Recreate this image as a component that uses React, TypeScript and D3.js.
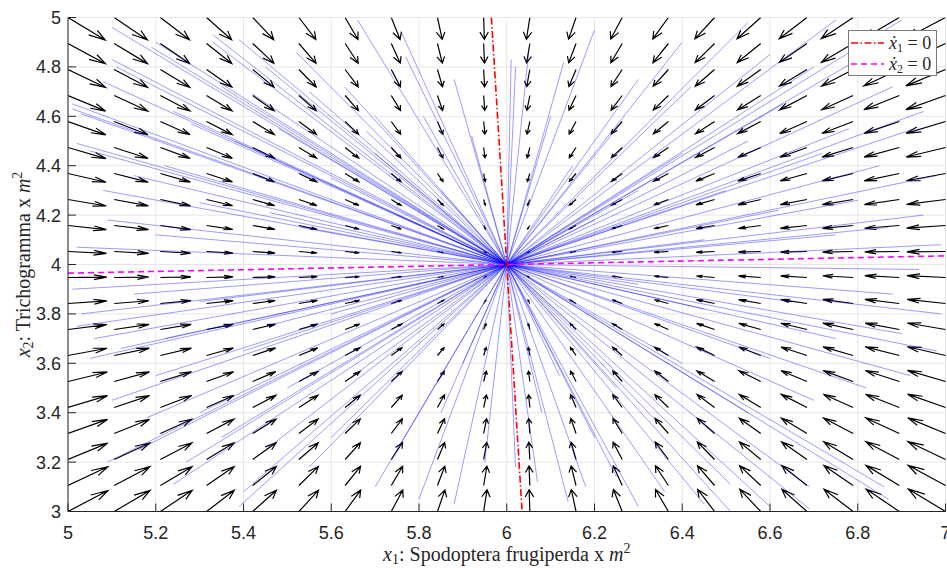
import React from "react";
import * as d3 from "d3";

// ---------- data ----------
const xDomain = [5, 7];
const yDomain = [3, 5];
const xTicks = [5, 5.2, 5.4, 5.6, 5.8, 6, 6.2, 6.4, 6.6, 6.8, 7];
const yTicks = [3, 3.2, 3.4, 3.6, 3.8, 4, 4.2, 4.4, 4.6, 4.8, 5];

// equilibrium point
const equilibrium = [6, 4];
// x1-dot = 0 nullcline: x1 at x2 = 5 and x2 = 3
const nullcline1X = [5.965, 6.035];
const nullcline1Y = [5, 3];
// x2-dot = 0 nullcline: x2 at x1 = 5 and x1 = 7
const nullcline2X = [5, 7];
const nullcline2Y = [3.965, 4.035];

// quiver grid (20 x 20 points over the domain)
const quiverCount = 20;
const quiverScale = 0.088;

// trajectory starting points (all converge to the equilibrium)
const trajStartX = [
  5.10, 5.10, 5.11, 5.08, 5.01, 5.01, 5.03, 5.02, 5.05, 5.08, 5.20, 5.19, 5.33, 5.33, 5.39, 5.42, 5.66, 5.76, 5.77, 5.63,
  5.70, 5.68, 5.81, 5.24, 5.28, 5.35, 5.45, 5.52, 5.55, 5.48, 5.38, 5.22, 5.15, 5.09, 5.30, 5.46, 5.60, 5.70, 5.85, 5.88,
  5.92, 5.75, 5.20, 5.53, 5.02,
  6.01, 6.02, 6.05, 6.13, 6.20, 6.30, 6.40, 6.42, 6.55, 6.60, 6.70, 6.63, 6.75, 6.82, 6.90, 6.88, 6.95, 6.93, 6.78, 6.72,
  6.85, 6.98, 6.55, 6.40, 6.25, 6.15, 6.10, 6.30, 6.50, 6.62, 6.80, 6.95, 6.87, 6.75, 6.45, 6.99, 6.20,
  5.01, 5.03, 5.02, 5.06, 5.12, 5.05, 5.20, 5.10, 5.18, 5.09, 5.16, 5.24, 5.27, 5.39, 5.40, 5.30, 5.35, 5.45, 5.55, 5.60,
  5.70, 5.80, 5.88, 5.75, 5.50, 5.65, 5.40, 5.30, 5.15, 5.60, 5.45, 5.85, 5.95, 5.90, 5.22,
  6.02, 6.07, 6.14, 6.18, 6.25, 6.30, 6.36, 6.45, 6.51, 6.51, 6.60, 6.69, 6.69, 6.87, 6.86, 6.20, 6.35, 6.55, 6.70, 6.82,
  6.92, 6.98, 6.90, 6.75, 6.60, 6.40, 6.25, 6.12, 6.15, 6.45, 6.65, 6.88, 6.99, 6.94, 6.30, 6.08,
];
const trajStartY = [
  4.96, 4.83, 4.80, 4.74, 4.65, 4.63, 4.61, 4.49, 4.46, 4.30, 4.90, 4.88, 4.93, 4.90, 4.91, 4.69, 4.99, 4.94, 4.84, 4.72,
  4.60, 4.54, 4.60, 4.62, 4.57, 4.72, 4.80, 4.86, 4.70, 4.55, 4.50, 4.40, 4.36, 4.18, 4.25, 4.21, 4.35, 4.45, 4.30, 4.75,
  4.52, 4.20, 4.12, 4.15, 4.07,
  4.83, 4.80, 4.86, 4.82, 4.95, 4.75, 4.90, 4.72, 4.98, 4.85, 4.80, 4.65, 4.99, 4.85, 4.99, 4.72, 4.62, 4.55, 4.55, 4.45,
  4.40, 4.36, 4.50, 4.45, 4.55, 4.40, 4.60, 4.30, 4.30, 4.22, 4.26, 4.20, 4.15, 4.12, 4.10, 4.08, 4.18,
  3.90, 3.80, 3.75, 3.70, 3.66, 3.62, 3.55, 3.45, 3.38, 3.20, 3.25, 3.11, 3.20, 3.02, 3.08, 3.40, 3.30, 3.25, 3.18, 3.30,
  3.10, 3.05, 3.03, 3.25, 3.50, 3.55, 3.65, 3.85, 3.88, 3.80, 3.75, 3.40, 3.20, 3.60, 3.70,
  3.18, 3.12, 3.04, 3.10, 3.14, 3.02, 3.08, 3.03, 3.00, 3.11, 3.02, 3.01, 3.10, 3.05, 3.10, 3.30, 3.35, 3.40, 3.45, 3.50,
  3.55, 3.65, 3.72, 3.70, 3.62, 3.60, 3.50, 3.55, 3.75, 3.82, 3.85, 3.88, 3.80, 3.98, 3.92, 3.40,
];

// ---------- layout ----------
const W = 947;
const H = 568;
const left = 68;
const right = 945.5;
const top = 17.5;
const bottom = 511.5;

const tickFont = "'Liberation Sans', Arial, sans-serif";
const serif = "'Liberation Serif', 'Times New Roman', serif";

export default function App() {
  const x = d3.scaleLinear().domain(xDomain).range([left, right]);
  const y = d3.scaleLinear().domain(yDomain).range([bottom, top]);

  // linear model derived from nullclines
  const k1 = (equilibrium[0] - nullcline1X[0]) / (nullcline1Y[0] - equilibrium[1]);
  const k2 = (nullcline2Y[1] - equilibrium[1]) / (nullcline2X[1] - equilibrium[0]);
  const field = (a: number, b: number) => {
    const dx = a - equilibrium[0];
    const dy = b - equilibrium[1];
    return [-(dx + k1 * dy), -(dy - k2 * dx)];
  };

  const gx = d3.range(quiverCount).map((i) => xDomain[0] + (i * (xDomain[1] - xDomain[0])) / (quiverCount - 1));
  const gy = d3.range(quiverCount).map((i) => yDomain[0] + (i * (yDomain[1] - yDomain[0])) / (quiverCount - 1));

  const alpha = 0.33;
  const beta = 0.33;
  const arrows: string[] = [];
  gx.forEach((a) =>
    gy.forEach((b) => {
      const [fu, fv] = field(a, b);
      const u = fu * quiverScale;
      const v = fv * quiverScale;
      const tx = a + u;
      const ty = b + v;
      const h1x = tx - alpha * (u + beta * v);
      const h1y = ty - alpha * (v - beta * u);
      const h2x = tx - alpha * (u - beta * v);
      const h2y = ty - alpha * (v + beta * u);
      arrows.push(
        `M${x(a)},${y(b)}L${x(tx)},${y(ty)}M${x(h1x)},${y(h1y)}L${x(tx)},${y(ty)}L${x(h2x)},${y(h2y)}`
      );
    })
  );

  const lineGen = d3
    .line<[number, number]>()
    .x((d) => x(d[0]))
    .y((d) => y(d[1]));

  return (
    <svg
      width={W}
      height={H}
      style={{ position: "absolute", left: 0, top: 0, display: "block", background: "#fff" }}
    >
      <defs>
        <clipPath id="plotClip">
          <rect x={left} y={top} width={right - left + 2} height={bottom - top} />
        </clipPath>
      </defs>
      {/* grid */}
      <g stroke="#e6e6e6" strokeWidth={1}>
        {xTicks.map((t) => (
          <line key={"gx" + t} x1={x(t)} x2={x(t)} y1={top} y2={bottom} />
        ))}
        {yTicks.map((t) => (
          <line key={"gy" + t} x1={left} x2={right} y1={y(t)} y2={y(t)} />
        ))}
      </g>

      <g clipPath="url(#plotClip)">
        {/* quiver arrows */}
        <path d={arrows.join("")} fill="none" stroke="#000" strokeWidth={1.2} strokeLinejoin="miter" />
        {/* trajectories */}
        <g stroke="#0000ff" strokeWidth={0.6} strokeOpacity={0.65} fill="none">
          {trajStartX.map((sx, i) => (
            <path key={"t" + i} d={lineGen([[sx, trajStartY[i]], [equilibrium[0], equilibrium[1]]]) || ""} />
          ))}
        </g>
        {/* nullclines */}
        <path
          d={lineGen([[nullcline1X[0], nullcline1Y[0]], [nullcline1X[1], nullcline1Y[1]]]) || ""}
          stroke="#ff0000"
          strokeWidth={1.6}
          strokeDasharray="7 2.5 1.5 2.5"
          fill="none"
        />
        <path
          d={lineGen([[nullcline2X[0], nullcline2Y[0]], [nullcline2X[1], nullcline2Y[1]]]) || ""}
          stroke="#ff00ff"
          strokeWidth={1.6}
          strokeDasharray="6 4"
          fill="none"
        />
      </g>

      {/* axes */}
      <g stroke="#262626" strokeWidth={1}>
        <line x1={left} x2={left} y1={top} y2={bottom} />
        <line x1={left} x2={right} y1={bottom} y2={bottom} />
        {xTicks.map((t) => (
          <line key={"tx" + t} x1={x(t)} x2={x(t)} y1={bottom} y2={bottom - 8} />
        ))}
        {yTicks.map((t) => (
          <line key={"ty" + t} x1={left} x2={left + 8} y1={y(t)} y2={y(t)} />
        ))}
      </g>
      <g fontFamily={tickFont} fontSize={18} fill="#262626">
        {xTicks.map((t) => (
          <text key={"lx" + t} x={x(t)} y={539} textAnchor="middle">
            {String(t)}
          </text>
        ))}
        {yTicks.map((t) => (
          <text key={"ly" + t} x={61} y={y(t) + 6.5} textAnchor="end">
            {String(t)}
          </text>
        ))}
      </g>

      {/* axis labels */}
      <text x={(left + right) / 2} y={561} textAnchor="middle" fontFamily={serif} fontSize={20} fill="#262626">
        <tspan fontStyle="italic">x</tspan>
        <tspan fontSize={14} dy={3}>1</tspan>
        <tspan dy={-3}>: Spodoptera frugiperda x </tspan>
        <tspan fontStyle="italic">m</tspan>
        <tspan fontSize={14} dy={-8}>2</tspan>
      </text>
      <text
        transform={`translate(30,${(top + bottom) / 2}) rotate(-90)`}
        textAnchor="middle"
        fontFamily={serif}
        fontSize={20}
        fill="#262626"
      >
        <tspan fontStyle="italic">x</tspan>
        <tspan fontSize={14} dy={3}>2</tspan>
        <tspan dy={-3}>: Trichogramma x </tspan>
        <tspan fontStyle="italic">m</tspan>
        <tspan fontSize={14} dy={-8}>2</tspan>
      </text>

      {/* legend */}
      <g>
        <rect x={848.5} y={30.5} width={88} height={45} fill="#fff" stroke="#7a7a7a" strokeWidth={1} />
        <line x1={851} x2={884} y1={43} y2={43} stroke="#ff0000" strokeWidth={1.6} strokeDasharray="7 2.5 1.5 2.5" />
        <line x1={851} x2={884} y1={64} y2={64} stroke="#ff00ff" strokeWidth={1.6} strokeDasharray="6 4" />
        <g fontFamily={serif} fontSize={18} fill="#262626">
          <text x={889} y={49}>
            <tspan fontStyle="italic">ẋ</tspan>
            <tspan fontSize={12} dy={3}>1</tspan>
            <tspan dy={-3}> = 0</tspan>
          </text>
          <text x={889} y={70}>
            <tspan fontStyle="italic">ẋ</tspan>
            <tspan fontSize={12} dy={3}>2</tspan>
            <tspan dy={-3}> = 0</tspan>
          </text>
        </g>
      </g>
    </svg>
  );
}
